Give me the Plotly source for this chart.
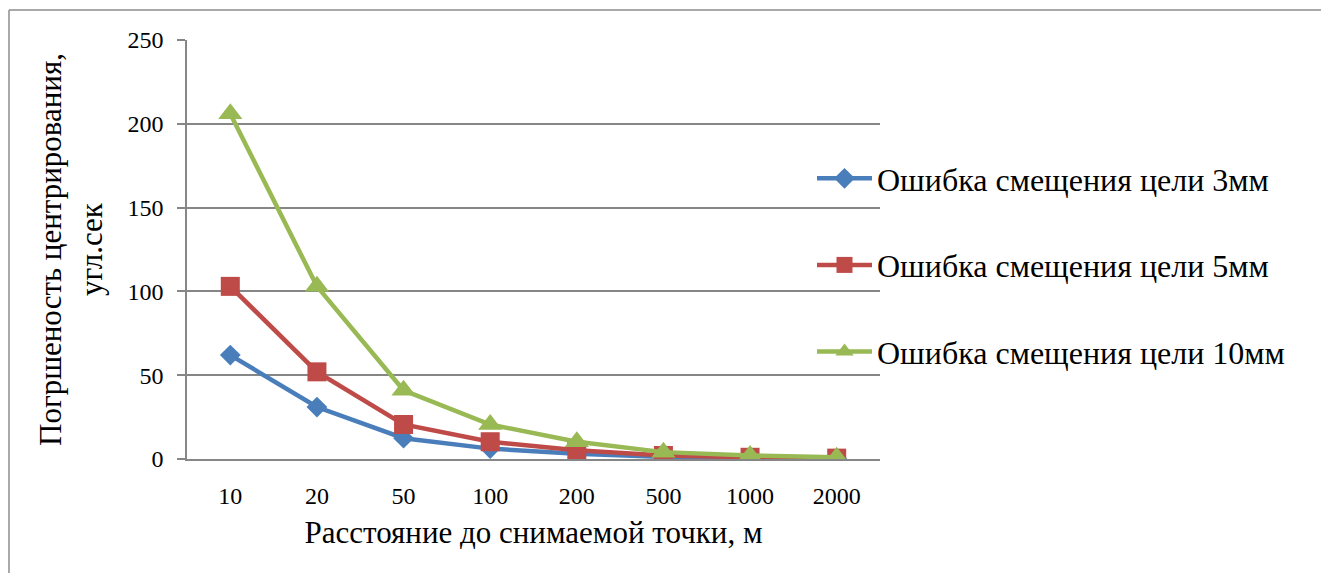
import plotly.graph_objects as go

categories = ["10", "20", "50", "100", "200", "500", "1000", "2000"]
err_3mm = [62, 31, 12.4, 6.2, 3.1, 1.24, 0.62, 0.31]
err_5mm = [103, 52, 20.6, 10.3, 5.2, 2.1, 1.03, 0.52]
err_10mm = [206, 103, 41, 20.6, 10.3, 4.1, 2.06, 1.03]
names = ["Ошибка смещения цели 3мм", "Ошибка смещения цели 5мм", "Ошибка смещения цели 10мм"]
colors = ["#4A7EBB", "#BE4B48", "#98B954"]
symbols = ["diamond", "square", "triangle-up"]
sizes = [16, 19, 21]

W, H = 1321, 573
L, R, T, B = 187, 880, 40, 459

fig = go.Figure()
for i, ys in enumerate([err_3mm, err_5mm, err_10mm]):
    fig.add_trace(go.Scatter(
        x=categories, y=ys, name=names[i], mode="lines+markers",
        line=dict(color=colors[i], width=4.5),
        marker=dict(symbol=symbols[i], size=sizes[i], color=colors[i]),
        legendgroup=f"g{i}",
    ))

font = "Liberation Serif, Times New Roman, serif"
grid = "#868686"

def px_x(p):
    return (p - L) / (R - L)

def px_y(p):
    return (B - p) / (B - T)

fig.update_layout(
    width=W, height=H,
    margin=dict(l=L, r=W - R, t=T, b=H - B),
    paper_bgcolor="white", plot_bgcolor="white",
    font=dict(family=font, size=24, color="black"),
    showlegend=True,
    legend=dict(
        x=px_x(812), y=px_y(151), xanchor="left", yanchor="top",
        font=dict(family=font, size=32, color="black"),
        tracegroupgap=42, itemwidth=55, bgcolor="rgba(0,0,0,0)",
    ),
    xaxis=dict(
        type="category", showgrid=False, showline=True, linecolor=grid, linewidth=1.5,
        ticks="", tickfont=dict(size=24), ticklabelstandoff=14,
        title=dict(text="Расстояние до снимаемой точки, м", font=dict(size=31), standoff=14),
        range=[-0.5, 7.5],
    ),
    yaxis=dict(
        range=[0, 250], tickvals=[0, 50, 100, 150, 200, 250],
        showgrid=True, gridcolor=grid, gridwidth=1.5,
        showline=True, linecolor=grid, linewidth=1.5,
        ticks="outside", ticklen=8, tickcolor=grid, tickwidth=1.5,
        tickfont=dict(size=24), zeroline=False, ticklabelstandoff=9,
        title=dict(text="Погршеность центрирования,<br>угл.сек", font=dict(size=31), standoff=16),
    ),
    shapes=[
        dict(type="line", xref="paper", yref="paper", x0=px_x(9), x1=px_x(1321), y0=px_y(10), y1=px_y(10),
             line=dict(color="#8C8C8C", width=1.5)),
        dict(type="line", xref="paper", yref="paper", x0=px_x(9), x1=px_x(9), y0=px_y(10), y1=px_y(573),
             line=dict(color="#8C8C8C", width=1.5)),
    ],
)

fig.write_html(
    "out.html",
    config={"displayModeBar": False},
    post_script="document.body.style.margin='0';document.body.style.overflow='hidden';",
)
